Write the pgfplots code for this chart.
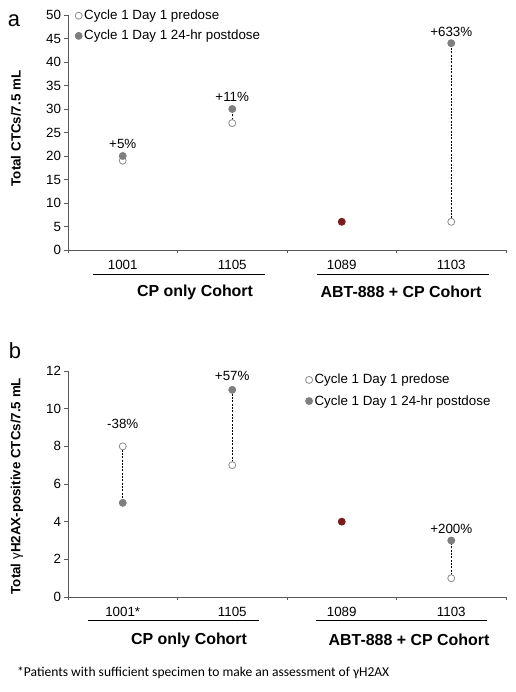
\documentclass[border=0pt]{standalone}
\usepackage{fontspec}
\setmainfont{Liberation Sans}
\newfontfamily\calibri{Carlito}
\usepackage{pgfplots}
\pgfplotsset{compat=1.18}

\definecolor{predge}{HTML}{8C8C8C}
\definecolor{postfill}{HTML}{7F7F7F}
\definecolor{darkred}{HTML}{7A1C1C}
\definecolor{axgray}{HTML}{595959}

\newcommand{\fs}{\fontsize{13.4}{16}\selectfont}

\pgfplotsset{
  myax/.style={
    scale only axis, width=438bp,
    xmin=0.5, xmax=4.5, ymin=0,
    axis x line*=bottom, axis y line*=left,
    axis line style={axgray,-, line width=0.7bp},
    xtick={0.5,1.5,2.5,3.5,4.5},
    x tick label as interval=true,
    xticklabels={1001,1105,1089,1103},
    tick align=outside, major tick length=3.5bp,
    tick style={axgray, line width=0.7bp},
    tick label style={font=\fs, black},
    xticklabel style={yshift=-3bp},
    /pgf/number format/assume math mode=true,
    every axis y label/.style={rotate=90, anchor=center, font=\fs\bfseries},
    legend style={draw=none, fill=none, font=\fs, inner sep=0pt,
      cells={anchor=west}, row sep=5bp},
    legend image code/.code={\draw[##1] plot coordinates {(0bp,0bp)};},
    clip=false,
  },
  pre/.style={only marks, mark=*, mark size=3.5bp, mark options={fill=white, draw=predge, line width=0.8bp}},
  post/.style={only marks, mark=*, mark size=3.5bp, mark options={fill=postfill, draw=postfill, line width=0.8bp}},
  red/.style={only marks, mark=*, mark size=3.5bp, mark options={fill=darkred, draw=darkred, line width=0.8bp}},
  dsh/.style={black, line width=0.9bp, dash pattern=on 2bp off 1.3bp},
}

\begin{document}
\begin{tikzpicture}
\useasboundingbox (0,0) rectangle (516bp,692bp);

% ---------------- panel a ----------------
\begin{axis}[myax, at={(68bp,442bp)}, anchor=south west,
  height=235bp, ymax=50, ytick={0,5,...,50},
  ylabel={Total CTCs/7.5 mL},
  every axis y label/.append style={at={(axis description cs:-0.1187,0.517)}},
  legend style={at={(axis description cs:0.016,1.03)}, anchor=north west},
]
\addplot[dsh, forget plot] coordinates {(1,19) (1,20)};
\addplot[dsh, forget plot] coordinates {(2,27) (2,30)};
\addplot[dsh, forget plot] coordinates {(4,6) (4,44)};
\addplot[pre] coordinates {(1,19) (2,27) (4,6)};
\addlegendentry{Cycle 1 Day 1 predose}
\addplot[post] coordinates {(1,20) (2,30) (4,44)};
\addlegendentry{Cycle 1 Day 1 24-hr postdose}
\addplot[red, forget plot] coordinates {(3,6)};
\node[font=\fs] at (axis cs:1,22.6) {+5\%};
\node[font=\fs] at (axis cs:2,32.6) {+11\%};
\node[font=\fs] at (axis cs:4,46.3) {+633\%};
\end{axis}

\draw[black, line width=0.8bp] (93bp,418bp) -- (265bp,418bp);
\draw[black, line width=0.8bp] (317bp,418bp) -- (489bp,418bp);
\node[font=\fontsize{16}{19}\selectfont\bfseries] at (195bp,400bp) {CP only Cohort};
\node[font=\fontsize{16}{19}\selectfont\bfseries] at (401bp,400bp) {ABT-888 + CP Cohort};
\node[font=\fontsize{22}{26}\selectfont] at (14bp,671bp) {a};

% ---------------- panel b ----------------
\begin{axis}[myax, at={(68bp,95bp)}, anchor=south west,
  height=226bp, ymax=12, ytick={0,2,...,12},
  xticklabels={1001*,1105,1089,1103},
  ylabel={Total {\mdseries γ}H2AX-positive CTCs/7.5 mL},
  every axis y label/.append style={at={(axis description cs:-0.1164,0.491)}},
  legend style={at={(axis description cs:0.542,0.995)}, anchor=north west, row sep=6bp},
]
\addplot[dsh, forget plot] coordinates {(1,8) (1,5)};
\addplot[dsh, forget plot] coordinates {(2,7) (2,11)};
\addplot[dsh, forget plot] coordinates {(4,1) (4,3)};
\addplot[pre] coordinates {(1,8) (2,7) (4,1)};
\addlegendentry{Cycle 1 Day 1 predose}
\addplot[post] coordinates {(1,5) (2,11) (4,3)};
\addlegendentry{Cycle 1 Day 1 24-hr postdose}
\addplot[red, forget plot] coordinates {(3,4)};
\node[font=\fs] at (axis cs:1,9.2) {-38\%};
\node[font=\fs] at (axis cs:2,11.75) {+57\%};
\node[font=\fs] at (axis cs:4,3.6) {+200\%};
\end{axis}

\draw[black, line width=0.8bp] (88bp,72bp) -- (259bp,72bp);
\draw[black, line width=0.8bp] (316bp,72bp) -- (487bp,72bp);
\node[font=\fontsize{16}{19}\selectfont\bfseries] at (189bp,52bp) {CP only Cohort};
\node[font=\fontsize{16}{19}\selectfont\bfseries] at (409bp,52bp) {ABT-888 + CP Cohort};
\node[font=\fontsize{22}{26}\selectfont] at (15bp,341bp) {b};
\node[font=\calibri\fontsize{13.6}{16}\selectfont, anchor=west, inner sep=0pt] at (17bp,19bp) {*Patients with sufficient specimen to make an assessment of γH2AX};
\end{tikzpicture}
\end{document}
